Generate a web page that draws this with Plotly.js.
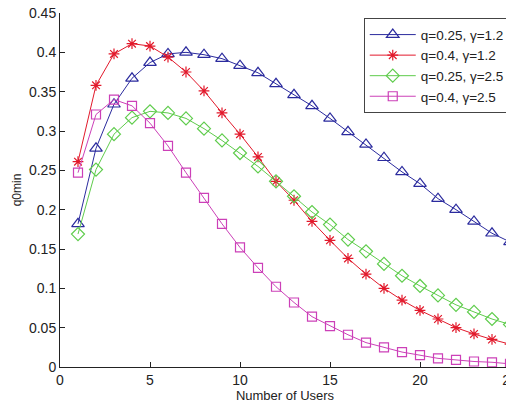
<!DOCTYPE html>
<html>
<head>
<meta charset="utf-8">
<script src="https://cdn.plot.ly/plotly-3.0.1.min.js"></script>
<style>
html, body { margin: 0; padding: 0; overflow: hidden; background: #fff; }
#chart { width: 525px; height: 410px; }
</style>
</head>
<body>
<div id="chart"></div>
<script>
const users = [1,2,3,4,5,6,7,8,9,10,11,12,13,14,15,16,17,18,19,20,21,22,23,24,25];
const q025g12 = [0.182,0.278,0.334,0.367,0.387,0.398,0.400,0.397,0.392,0.383,0.374,0.360,0.346,0.332,0.316,0.299,0.283,0.266,0.248,0.233,0.214,0.200,0.185,0.170,0.159];
const q04g12  = [0.261,0.358,0.398,0.411,0.408,0.394,0.375,0.351,0.323,0.296,0.267,0.236,0.212,0.185,0.161,0.138,0.118,0.100,0.085,0.072,0.061,0.050,0.042,0.035,0.029];
const q025g25 = [0.169,0.251,0.296,0.317,0.325,0.323,0.316,0.303,0.288,0.272,0.255,0.236,0.217,0.197,0.181,0.162,0.147,0.131,0.116,0.103,0.091,0.079,0.070,0.061,0.054];
const q04g25  = [0.247,0.321,0.340,0.332,0.310,0.281,0.247,0.215,0.182,0.152,0.126,0.102,0.082,0.064,0.052,0.041,0.031,0.025,0.019,0.015,0.011,0.009,0.007,0.006,0.004];
const seriesNames = ['q=0.25, γ=1.2', 'q=0.4, γ=1.2', 'q=0.25, γ=2.5', 'q=0.4, γ=2.5'];
const xTicks = [0,5,10,15,20,25];
const yTicks = [0,0.05,0.1,0.15,0.2,0.25,0.3,0.35,0.4,0.45];

const styles = [
  {color:'#2b2b9e', symbol:'triangle-up-open', size:11},
  {color:'#e2192b', symbol:'asterisk-open', size:9},
  {color:'#5fcc4c', symbol:'diamond-open', size:10},
  {color:'#cc40b8', symbol:'square-open', size:9}
];
const ys = [q025g12, q04g12, q025g25, q04g25];
const traces = ys.map((y,i) => ({
  x: users, y: y, name: seriesNames[i], type:'scatter', mode:'lines+markers',
  line:{color:styles[i].color, width:1},
  marker:{symbol:styles[i].symbol, size:styles[i].size, color:styles[i].color,
          line:{color:styles[i].color, width:1.2}}
}));

const fontFam = '"Liberation Sans", Arial, sans-serif';
const layout = {
  width: 525, height: 410,
  margin: {l:60, r:15, t:13, b:43},
  paper_bgcolor:'#fff', plot_bgcolor:'#fff',
  font:{family:fontFam, size:14, color:'#222'},
  showlegend:true,
  legend:{x:0.675, y:0.985, xanchor:'left', yanchor:'top',
          bgcolor:'#fff', bordercolor:'#444', borderwidth:1, itemwidth:46,
          font:{family:fontFam, size:13.5, color:'#222'}, tracegroupgap:0},
  xaxis:{range:[0,25], tickvals:xTicks, ticktext:xTicks.map(String),
         ticks:'inside', ticklen:5, tickcolor:'#222', showline:true, linecolor:'#222', linewidth:1,
         showgrid:false, zeroline:false, mirror:false, tickfont:{size:14},
         title:{text:'Number of Users', font:{family:fontFam, size:13, color:'#222'}, standoff:3}},
  yaxis:{range:[0,0.45], tickvals:yTicks, ticktext:yTicks.map(String),
         ticks:'inside', ticklen:5, tickcolor:'#222', showline:true, linecolor:'#222', linewidth:1,
         showgrid:false, zeroline:false, mirror:false, tickfont:{size:14},
         title:{text:'q0min', font:{family:fontFam, size:12, color:'#222'}, standoff:4}}
};
Plotly.newPlot('chart', traces, layout, {displayModeBar:false, staticPlot:true});
</script>
</body>
</html>
